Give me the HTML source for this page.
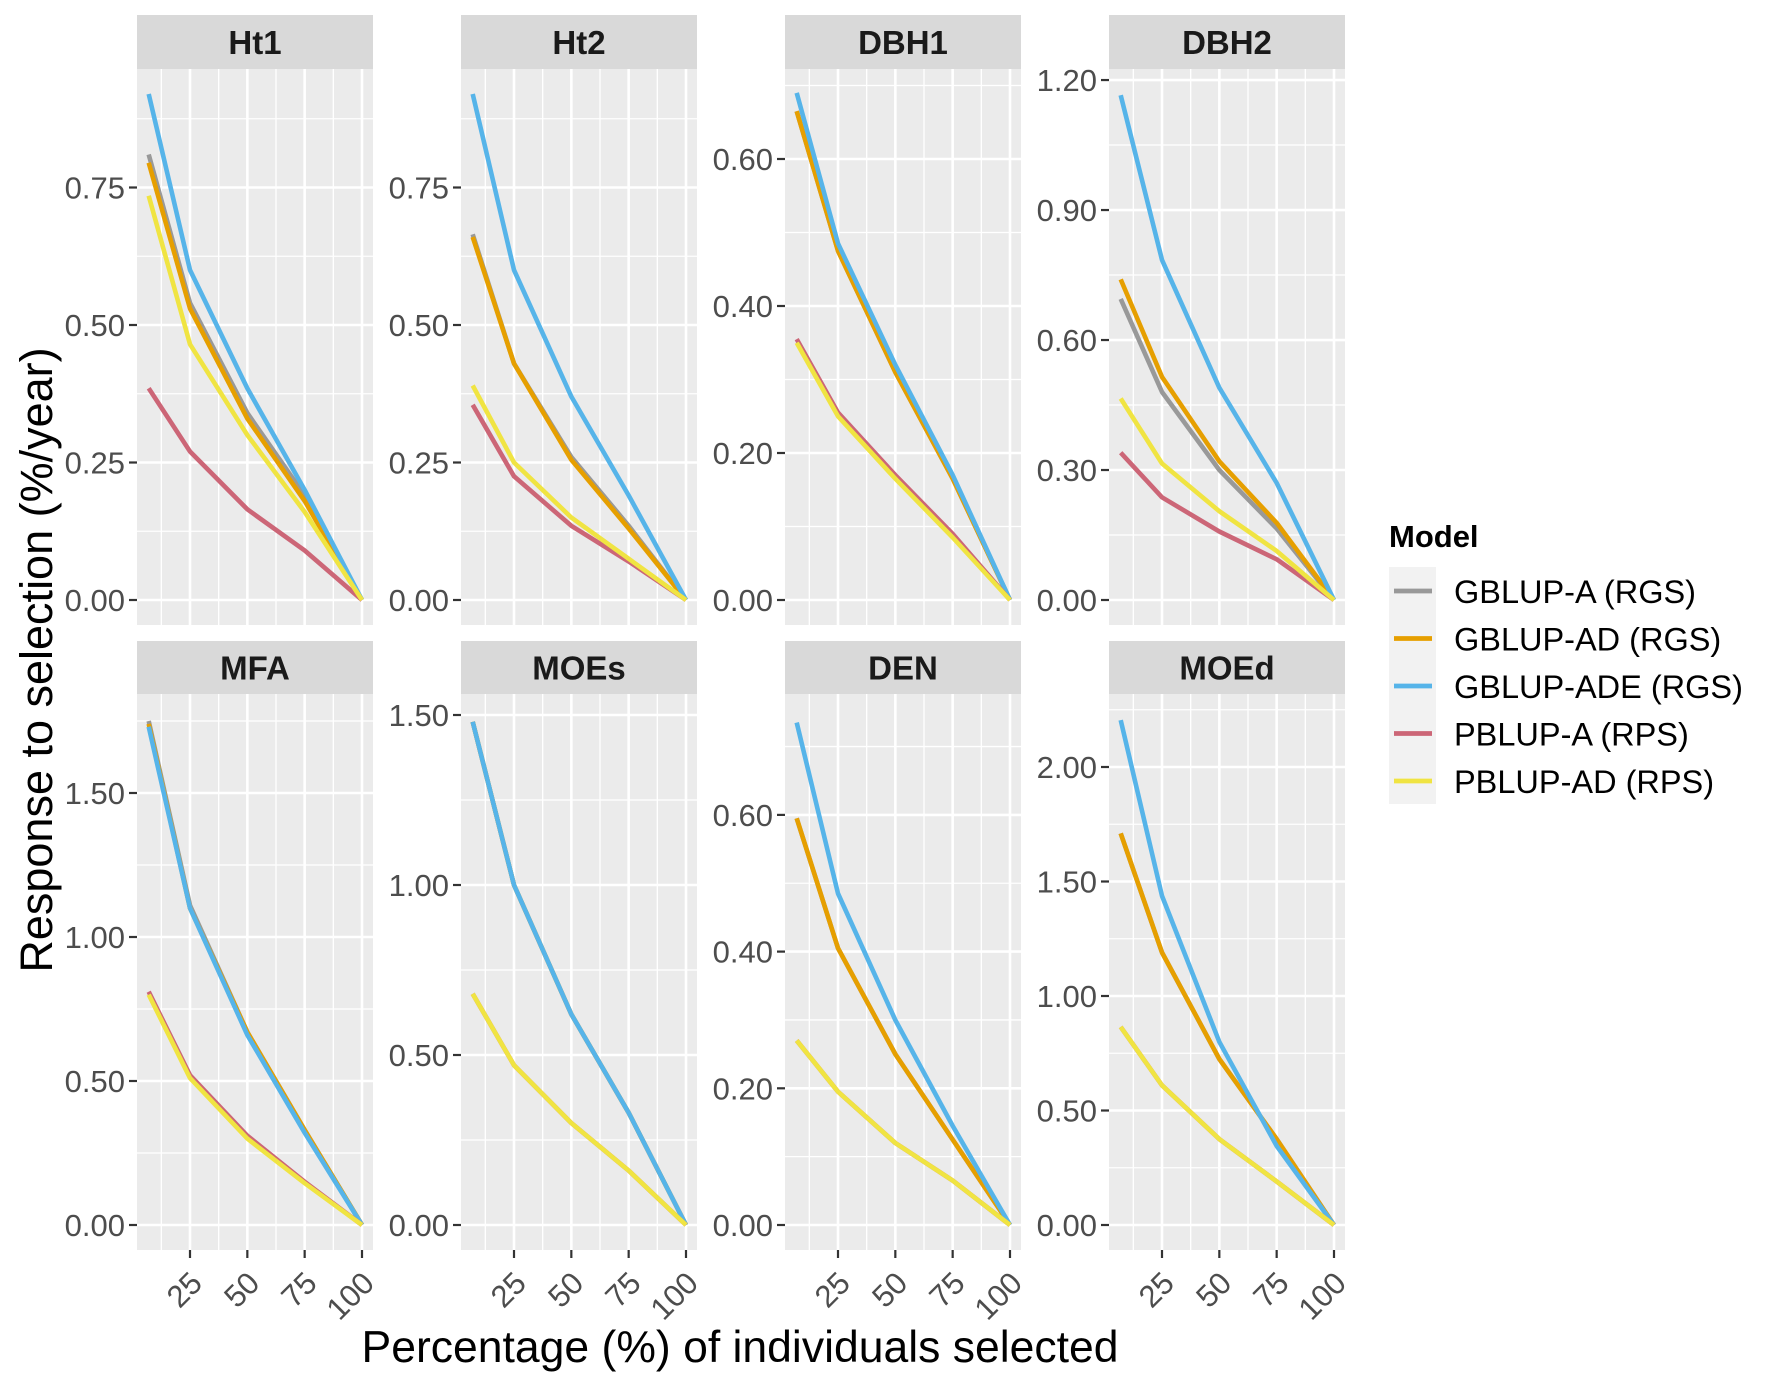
<!DOCTYPE html>
<html><head><meta charset="utf-8"><style>
body{margin:0;background:#fff;}
svg{display:block;font-family:"Liberation Sans",Arial,sans-serif;}
</style></head><body>
<svg id="chart" width="1772" height="1386" viewBox="0 0 1772 1386" xmlns="http://www.w3.org/2000/svg">
<g id="panels"></g>
<text x="740" y="1362" font-size="44.5" text-anchor="middle" fill="#000">Percentage (%) of individuals selected</text>
<text transform="translate(52,660) rotate(-90)" font-size="45" text-anchor="middle" fill="#000">Response to selection (%/year)</text>
<g id="legend">
<text x="1389" y="547" font-size="31" font-weight="bold" fill="#000">Model</text>
<rect x="1389" y="567" width="47" height="237" fill="#F2F2F2"/>
</g>
</svg>
<script>
const xValues = [7, 25, 50, 75, 100];
const xTicks = [25, 50, 75, 100];
const modelNames = ["GBLUP-A (RGS)", "GBLUP-AD (RGS)", "GBLUP-ADE (RGS)", "PBLUP-A (RPS)", "PBLUP-AD (RPS)"];
const modelColors = ["#999999", "#E69F00", "#56B4E9", "#CC6677", "#F0E442"];
const traits = ["Ht1", "Ht2", "DBH1", "DBH2", "MFA", "MOEs", "DEN", "MOEd"];
const ht1 = [[0.81,0.54,0.34,0.19,0],[0.795,0.53,0.33,0.18,0],[0.92,0.60,0.385,0.20,0],[0.385,0.27,0.165,0.09,0],[0.735,0.465,0.30,0.16,0]];
const ht2 = [[0.665,0.43,0.26,0.135,0],[0.66,0.43,0.255,0.13,0],[0.92,0.60,0.37,0.19,0],[0.355,0.225,0.135,0.07,0],[0.39,0.25,0.15,0.075,0]];
const dbh1 = [[0.665,0.475,0.31,0.165,0],[0.665,0.475,0.31,0.165,0],[0.69,0.485,0.32,0.17,0],[0.355,0.255,0.17,0.09,0],[0.35,0.25,0.165,0.085,0]];
const dbh2 = [[0.695,0.48,0.30,0.165,0],[0.74,0.515,0.32,0.178,0],[1.165,0.785,0.49,0.27,0],[0.34,0.237,0.158,0.094,0],[0.465,0.315,0.205,0.113,0]];
const mfa = [[1.75,1.11,0.67,0.33,0],[1.74,1.10,0.67,0.33,0],[1.73,1.10,0.66,0.32,0],[0.81,0.52,0.31,0.15,0],[0.80,0.51,0.30,0.145,0]];
const moes = [[1.48,1.00,0.62,0.33,0],[1.48,1.00,0.62,0.33,0],[1.48,1.00,0.62,0.33,0],[0.68,0.47,0.30,0.16,0],[0.68,0.47,0.30,0.16,0]];
const den = [[0.595,0.405,0.25,0.125,0],[0.595,0.405,0.25,0.125,0],[0.735,0.485,0.30,0.145,0],[0.27,0.195,0.12,0.065,0],[0.27,0.195,0.12,0.065,0]];
const moed = [[1.71,1.19,0.725,0.375,0],[1.71,1.19,0.725,0.375,0],[2.205,1.437,0.80,0.345,0],[0.865,0.61,0.375,0.19,0],[0.865,0.61,0.375,0.19,0]];
const traitData = [ht1, ht2, dbh1, dbh2, mfa, moes, den, moed];
const ht1Ticks = [0, 0.25, 0.5, 0.75];
const ht2Ticks = [0, 0.25, 0.5, 0.75];
const dbh1Ticks = [0, 0.2, 0.4, 0.6];
const dbh2Ticks = [0, 0.3, 0.6, 0.9, 1.2];
const mfaTicks = [0, 0.5, 1.0, 1.5];
const moesTicks = [0, 0.5, 1.0, 1.5];
const denTicks = [0, 0.2, 0.4, 0.6];
const moedTicks = [0, 0.5, 1.0, 1.5, 2.0];
const traitTicks = [ht1Ticks, ht2Ticks, dbh1Ticks, dbh2Ticks, mfaTicks, moesTicks, denTicks, moedTicks];
// pixels per unit for each panel (layout, not data)
const pxPerUnit = [550, 550, 735, 433.3, 288, 340, 683.5, 229];

const NS = "http://www.w3.org/2000/svg";
const panelsG = document.getElementById("panels");
function mk(tag, attrs, parent) {
  const e = document.createElementNS(NS, tag);
  for (const k in attrs) e.setAttribute(k, attrs[k]);
  parent.appendChild(e);
  return e;
}
const lefts = [137, 461, 785, 1109];
const W = 236;
const rows = [{stripTop:15, top:69, bottom:625, zero:600}, {stripTop:641, top:694, bottom:1250, zero:1225}];
function xScale(left, v) { return left + 53 + (v - 25) * 2.2933; }

traits.forEach((name, i) => {
  const row = rows[Math.floor(i / 4)];
  const left = lefts[i % 4];
  const k = pxPerUnit[i];
  const yScale = v => row.zero - v * k;
  const g = mk("g", {}, panelsG);
  
  
  const bg = mk("rect", {x:left, y:row.top, width:W, height:row.bottom-row.top, fill:"#EBEBEB"}, g);
  
  
  const strip = mk("rect", {x:left, y:row.stripTop, width:W, height:row.top-row.stripTop, fill:"#D9D9D9"}, g);
  
  
  const st = mk("text", {x:left+W/2, y:(row.stripTop+row.top)/2+12, "font-size":33, "font-weight":"bold", "text-anchor":"middle", fill:"#1A1A1A"}, g);
  st.textContent = name;
  
  
  const ticks = traitTicks[i];
  const step = ticks[1] - ticks[0];
  for (let t = ticks[0] - step/2; t <= ticks[ticks.length-1] + step; t += step) {
    const y = yScale(t);
    if (y > row.top && y < row.bottom) {
      const l = mk("line", {x1:left, x2:left+W, y1:y, y2:y, stroke:"#fff", "stroke-width":1.3}, g);
      
      
    }
  }
  [12.5, 37.5, 62.5, 87.5].forEach(v => {
    const x = xScale(left, v);
    const l = mk("line", {x1:x, x2:x, y1:row.top, y2:row.bottom, stroke:"#fff", "stroke-width":1.3}, g);
    
    
  });
  ticks.forEach(t => {
    const y = yScale(t);
    const l = mk("line", {x1:left, x2:left+W, y1:y, y2:y, stroke:"#fff", "stroke-width":2.6}, g);
    
    
    const tk = mk("line", {x1:left-8, x2:left, y1:y, y2:y, stroke:"#333", "stroke-width":2.2}, g);
    
    
    const tl = mk("text", {x:left-12, y:y+11, "font-size":31, "text-anchor":"end", fill:"#4D4D4D"}, g);
    tl.textContent = t.toFixed(2);
    
    
  });
  xTicks.forEach(v => {
    const x = xScale(left, v);
    const l = mk("line", {x1:x, x2:x, y1:row.top, y2:row.bottom, stroke:"#fff", "stroke-width":2.6}, g);
    
    
    if (i >= 4) {
      const tk = mk("line", {x1:x, x2:x, y1:row.bottom, y2:row.bottom+8, stroke:"#333", "stroke-width":2.2}, g);
      
      
      const ax = x + 14, ay = row.bottom + 35;
      const tl = mk("text", {x:ax, y:ay, "font-size":31, "text-anchor":"end", fill:"#4D4D4D", transform:"rotate(-45 "+ax+" "+ay+")"}, g);
      tl.textContent = String(v);
      
      
    }
  });
  traitData[i].forEach((series, s) => {
    const pts = series.map((v, j) => xScale(left, xValues[j]).toFixed(1) + "," + yScale(v).toFixed(1)).join(" ");
    const pl = mk("polyline", {points:pts, fill:"none", stroke:modelColors[s], "stroke-width":4.6, "stroke-linejoin":"round"}, g);
    
    
  });
});

const legend = document.getElementById("legend");
modelNames.forEach((m, s) => {
  const cy = 591 + s * 47.5;
  const ln = mk("line", {x1:1394, x2:1432, y1:cy, y2:cy, stroke:modelColors[s], "stroke-width":4.8}, legend);
  
  
  const t = mk("text", {x:1454, y:cy+12, "font-size":32.5, fill:"#000"}, legend);
  t.textContent = m;
  
  
});
</script>
</body></html>
